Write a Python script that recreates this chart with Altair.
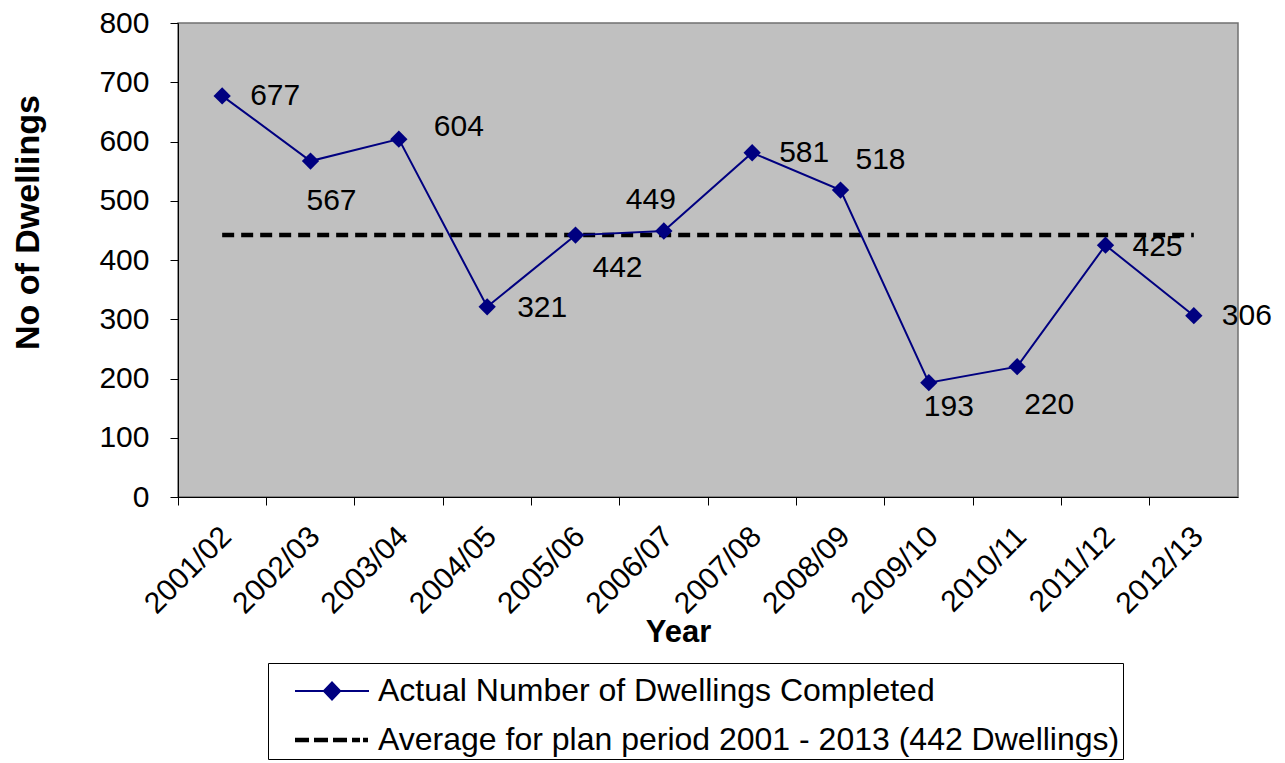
import altair as alt
import pandas as pd

years = ["2001/02", "2002/03", "2003/04", "2004/05", "2005/06", "2006/07",
         "2007/08", "2008/09", "2009/10", "2010/11", "2011/12", "2012/13"]
completed = [677, 567, 604, 321, 442, 449, 581, 518, 193, 220, 425, 306]
average = 442

series_actual = "Actual Number of Dwellings Completed"
series_avg = "Average for plan period 2001 - 2013 (442 Dwellings)"

# label offsets (dx, dy) in pixels for each data label
label_offsets = [(53, 0), (21, 40), (60, -12), (55, 1), (42, 33), (-13, -31),
                 (52, 0), (40, -30), (20, 24), (32, 38), (52, 2), (53, 0)]

FONT = "Liberation Sans"
NAVY = "#000080"

df = pd.DataFrame({"year": years, "value": completed})
df["idx"] = range(len(years))
df_avg = pd.DataFrame({"year": years, "value": [average] * len(years)})
df_leg = pd.DataFrame({"year": [years[0], years[0]], "value": [completed[0], average],
                       "series": [series_actual, series_avg]})

x_enc = alt.X("year:N", sort=years, bandPosition=0.5,
              scale=alt.Scale(type="band", paddingInner=0, paddingOuter=0),
              axis=alt.Axis(title="Year", labelAngle=315, bandPosition=0, labelOffset=-6,
                            labelFontSize=30, labelFont=FONT, labelColor="black",
                            labelPadding=16, tickSize=8, tickColor="black",
                            domainColor="black", titleFont=FONT, titleFontSize=31,
                            titleFontWeight="bold", titleColor="black",
                            titleX=500, titleY=144, titleBaseline="alphabetic"))
y_enc = alt.Y("value:Q", scale=alt.Scale(domain=[0, 800], nice=False),
              axis=alt.Axis(title="No of Dwellings", values=list(range(0, 801, 100)),
                            grid=False, labelFontSize=30, labelFont=FONT, labelColor="black",
                            labelPadding=21, tickSize=8, tickColor="black", domainColor="black",
                            titleFont=FONT, titleFontSize=34, titleFontWeight="bold",
                            titleColor="black", titleAngle=270, titleX=-150, titleY=199,
                            titleBaseline="middle"))

avg_line = alt.Chart(df_avg).mark_line(color="black", strokeWidth=4.5, strokeDash=[12, 7]).encode(
    x=x_enc, y=y_enc)

act_line = alt.Chart(df).mark_line(color=NAVY, strokeWidth=2).encode(x=x_enc, y=y_enc)
act_pts = alt.Chart(df).mark_point(shape="diamond", filled=True, color=NAVY, size=300,
                                   opacity=1).encode(x=x_enc, y=y_enc)

label_layers = []
for i, (dx, dy) in enumerate(label_offsets):
    label_layers.append(
        alt.Chart(df).transform_filter(alt.datum.idx == i).mark_text(
            font=FONT, fontSize=30, color="black", dx=dx, dy=dy, align="center",
            baseline="middle").encode(x=x_enc, y=y_enc, text="value:Q"))

u = 25.0
def px(v):
    return round(v / u, 3)

half = 37
actual_path = (f"M{px(-half)},{px(-1)}H{px(half)}V{px(1)}H{px(-half)}Z"
               f"M0,{px(-10)}L{px(9.5)},0L0,{px(10)}L{px(-9.5)},0Z")
dash_parts = []
for k, (a, b) in enumerate([(-37, -23), (-18, -4), (1, 15), (20, 28), (31, 36)]):
    dash_parts.append(f"M{px(a)},{px(-2.2)}H{px(b)}V{px(2.2)}H{px(a)}Z")
avg_path = "".join(dash_parts)

legend_layer = alt.Chart(df_leg).mark_point(filled=True, size=0, opacity=1).encode(
    x=x_enc, y=y_enc,
    color=alt.Color("series:N", sort=[series_actual, series_avg],
                    scale=alt.Scale(domain=[series_actual, series_avg], range=[NAVY, "black"]),
                    legend=alt.Legend(title=None, orient="none", legendX=90, legendY=640,
                                      direction="vertical", symbolOpacity=1,
                                      symbolSize=2500, symbolStrokeWidth=0,
                                      symbolOffset=36, labelOffset=21,
                                      labelFont=FONT, labelFontSize=32, labelColor="black",
                                      labelLimit=1000, rowPadding=8, padding=3,
                                      strokeColor="black", fillColor="white")),
    shape=alt.Shape("series:N", sort=[series_actual, series_avg],
                    scale=alt.Scale(domain=[series_actual, series_avg],
                                    range=[actual_path, avg_path]))
)

chart = alt.layer(avg_line, act_line, act_pts, *label_layers, legend_layer).properties(
    width=1060, height=474,
    autosize=alt.AutoSizeParams(type="none"),
    padding={"left": 178, "top": 23, "right": 47, "bottom": 266},
    background="white"
).configure_view(fill="#C0C0C0", stroke="#707070", strokeWidth=1.5)

chart.save("out.html", embed_options={"renderer": "svg", "actions": False})
